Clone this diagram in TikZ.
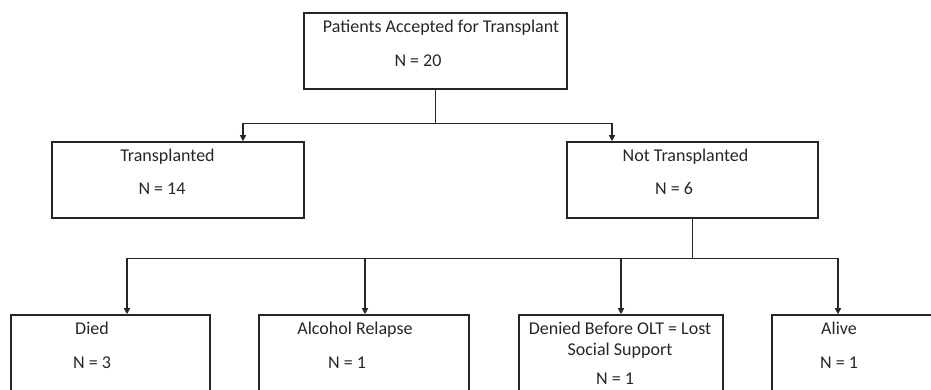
\documentclass[tikz,border=0pt]{standalone}
\usepackage{fontspec}
\setmainfont{Carlito}
\usetikzlibrary{arrows.meta}

\tikzset{
  caja/.style={draw=black!85, line width=1.6pt, rectangle, inner sep=0pt},
  texto/.style={inner sep=0pt, anchor=base, font=\fontsize{18}{21}\selectfont, text=black!85, align=center},
  linea/.style={draw=black!85, line width=1pt},
  flecha/.style={linea, -{Triangle[length=6pt,width=6pt]}},
  flechab/.style={linea, line width=2pt, -{Triangle[length=6pt,width=6pt]}}
}

\begin{document}
\begin{tikzpicture}[x=1pt,y=-1pt]
        \useasboundingbox (0,0) rectangle (931,389);
        \clip (0,0) rectangle (931,389);

        % Cajas
        \node[caja, minimum width=263pt, minimum height=76pt] (acep) at (435.5,51) {};
        \node[caja, minimum width=252pt, minimum height=76pt] (trans) at (178,180) {};
        \node[caja, minimum width=251pt, minimum height=76pt] (notrans) at (692.5,180) {};
        \node[caja, minimum width=199pt, minimum height=90pt] (murio) at (110.5,360) {};
        \node[caja, minimum width=210pt, minimum height=90pt] (recaida) at (364,360) {};
        \node[caja, minimum width=204pt, minimum height=90pt] (negado) at (621,360) {};
        \node[caja, minimum width=200pt, minimum height=90pt] (vivo) at (872,360) {};

        % Textos de las cajas
        \node[texto] (acepT) at (441,32) {Patients Accepted for Transplant};
        \node[texto] (acepN) at (418,66) {N = 20};
        \node[texto] (transT) at (167.5,161) {Transplanted};
        \node[texto] (transN) at (162,194) {N = 14};
        \node[texto] (notransT) at (685.5,161) {Not Transplanted};
        \node[texto] (notransN) at (674,194) {N = 6};
        \node[texto] (murioT) at (92,334) {Died};
        \node[texto] (murioN) at (92,368) {N = 3};
        \node[texto] (recaidaT) at (355,334) {Alcohol Relapse};
        \node[texto] (recaidaN) at (347,368) {N = 1};
        \node[texto] (negadoT) at (620,334) {Denied Before OLT = Lost};
        \node[texto] (negadoT2) at (620,355) {Social Support};
        \node[texto] (negadoN) at (615,384) {N = 1};
        \node[texto] (vivoT) at (839,334) {Alive};
        \node[texto] (vivoN) at (839,368) {N = 1};

        % Puntos de union
        \coordinate (u1) at (435.5,123);
        \coordinate (a1) at (243,123);
        \coordinate (a2) at (612,123);
        \coordinate (u2) at (692.5,258);
        \coordinate (b1) at (127,258);
        \coordinate (b2) at (365,258);
        \coordinate (b3) at (621,258);
        \coordinate (b4) at (838,258);

        % Conectores
        \draw[linea] (acep.south) -- (u1);
        \draw[linea] (a1) -- (a2);
        \draw[flecha, line width=1.3pt] (a1) -- (a1 |- trans.north);
        \draw[flecha, line width=1.3pt] (a2) -- (a2 |- notrans.north);
        \draw[linea] (notrans.south) -- (u2);
        \draw[linea] (b1) -- (b4);
        \draw[flechab] (b1) -- (b1 |- murio.north);
        \draw[flechab] (b2) -- (b2 |- recaida.north);
        \draw[flechab] (b3) -- (b3 |- negado.north);
        \draw[flechab] (b4) -- (b4 |- vivo.north);
    \end{tikzpicture}
\end{document}
